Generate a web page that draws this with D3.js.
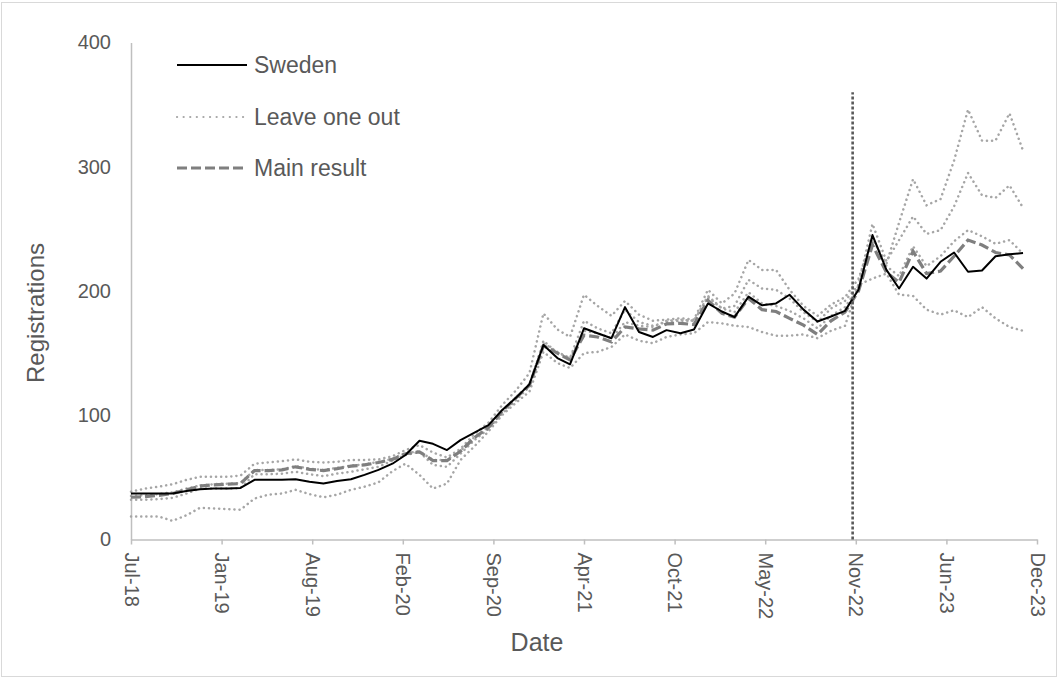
<!DOCTYPE html>
<html>
<head>
<meta charset="utf-8">
<script src="https://cdn.jsdelivr.net/npm/d3@7"></script>
<style>
  html, body { margin: 0; padding: 0; background: #fff; }
  svg { display: block; }
  text { font-family: "Liberation Sans", Arial, sans-serif; fill: #595959; }
</style>
</head>
<body>
<svg id="chart" width="1059" height="680"></svg>
<script>
// ---- data (monthly, Jul 2018 .. Dec 2023) ----
const startYear = 2018, startMonth = 6; // July 2018
const sweden = [37,37,37,37,39,40.5,41,41,41.5,48,48,48,48.5,46.5,45,47,48.5,52,56,61,68,79.5,77,72,80,86,92,104,114,125,156.5,146,141,170,166,162,187,167,163,168.5,166,169,190,183.5,179,195.5,188.5,190,197,185,175.5,179.5,184,201,245,217,202,219.5,210,223.5,231,215.5,216.5,228,229.5,230.5];
const mainResult = [34,34.5,35.5,37,40,43,44,44.5,45,55.5,55.5,56,58.5,56.5,55.5,57,59,60,62,64.5,69,70.5,63.5,63.5,71,82,90,103,114,124,156,150,144.5,164.5,163,159,171,169.5,168.5,173.5,174,173,192.5,182,179,194,185,183.5,178,172.5,165,176,183,200,237,215,207,232,214,216,228,241,237,231,229,218];
const looA = [38.5,41,42.5,44.5,48,50.5,50.5,50.5,51.5,61,62,63,64.5,62.5,62,62.5,64,64,64.5,67,72,76,70,66,73,85,94,108,120,134,182,169,163,197,188,180,192,181,176,177,178,177,201,190,198,225,217,217,201,188,180,189,195,210,242,222,255,290,269,274,305,346,321,321,343,313];
const looB = [32,32,32.5,33.5,37,41,41,41,41.5,52.5,52.5,53,54.5,52.5,51,53,54.5,56.5,58.5,63.5,68,70.5,60,58.5,69,80,89,101,112,123,160,150,146,176,170,166,185,175,172,175,176,176,196,186,188,209,202,201,194,183,175,186,192,205,254,224,241,260,246,249,268,295,277,275,285,267];
const looC = [35,35.5,36.5,38,41,43.5,44.5,45,45.5,56,56,56.5,59,57,56,57.5,59.5,60.5,62.5,65,69.5,71,64,64,71.5,82.5,90.5,103.5,114.5,125,158,151,146,168,166,162,175,172,171,176,177,176,195,186,183,199,190,188,184,178,170,180,187,203,243,220,212,236,220,228,240,249,244,238,241,230];
const looD = [18.5,18.5,18.5,15,19.5,25.5,25,24.5,24,33,36,37,40,36.5,34,36,40,42.5,46,55,61,52,41,45,64,75,87,100,110,119,151,142,138,150,151,155,165,160,158,163,165,166,175,174,172,171,167,164,164,165,162,168,172,205,210,214,197,196,185,181,184.5,179,187,178,171,168];
const leaveOneOut = [looA, looB, looC, looD];
const xTickLabels = ["Jul-18","Jan-19","Aug-19","Feb-20","Sep-20","Apr-21","Oct-21","May-22","Nov-22","Jun-23","Dec-23"];
const yTicks = [0,100,200,300,400];
const legendLabels = ["Sweden","Leave one out","Main result"];
const interventionDate = Date.UTC(2022, 10, 18);
const interventionTop = 360;

// ---- scales ----
const DAY = 86400000;
const t0 = Date.UTC(startYear, startMonth, 1);
const tickStepDays = 201;
const x = d3.scaleUtc()
  .domain([new Date(t0), new Date(t0 + tickStepDays * 10 * DAY)])
  .range([131, 1037]);
const y = d3.scaleLinear().domain([0, 400]).range([539.5, 42.5]);
const dates = sweden.map((_, i) => new Date(Date.UTC(startYear, startMonth + i, 1)));
const tickDates = xTickLabels.map((_, k) => new Date(t0 + k * tickStepDays * DAY));

const svg = d3.select("#chart");

// outer border
svg.append("rect").attr("x", 1.5).attr("y", 2.5).attr("width", 1055).attr("height", 674)
  .attr("fill", "#fff").attr("stroke", "#d9d9d9").attr("stroke-width", 1);

// ---- axes ----
const xAxis = svg.append("g").attr("transform", `translate(0,${y(0)})`)
  .call(d3.axisBottom(x).tickValues(tickDates).tickSize(5).tickSizeOuter(0)
    .tickFormat((d, i) => xTickLabels[i]));
xAxis.select(".domain").attr("stroke", "#bfbfbf").attr("stroke-width", 1.5);
xAxis.selectAll(".tick line").attr("stroke", "#bfbfbf").attr("stroke-width", 1.5);
xAxis.selectAll(".tick text")
  .attr("transform", "rotate(90)")
  .attr("text-anchor", "start")
  .attr("x", 13).attr("y", 0).attr("dy", "0.35em")
  .style("font-size", "20px").style("fill", "#595959");

const yAxis = svg.append("g").attr("transform", "translate(131,0)")
  .call(d3.axisLeft(y).tickValues(yTicks).tickSize(0).tickSizeOuter(0).tickPadding(20));
yAxis.select(".domain").attr("stroke", "#bfbfbf").attr("stroke-width", 1.5);
yAxis.selectAll(".tick text").style("font-size", "20px").style("fill", "#595959");

// axis titles
svg.append("text").attr("x", 537).attr("y", 651).attr("text-anchor", "middle")
  .style("font-size", "25px").text("Date");
svg.append("text").attr("transform", "translate(44,313) rotate(-90)").attr("text-anchor", "middle")
  .style("font-size", "24px").text("Registrations");

// ---- lines ----
const line = d3.line().x((d, i) => x(dates[i])).y(d => y(d));

svg.append("g").selectAll("path").data(leaveOneOut).join("path")
  .attr("d", line).attr("fill", "none")
  .attr("stroke", "#a6a6a6").attr("stroke-width", 2.5)
  .attr("stroke-linecap", "round").attr("stroke-dasharray", "0.1,5");

svg.append("path").datum(mainResult).attr("d", line).attr("fill", "none")
  .attr("stroke", "#7f7f7f").attr("stroke-width", 3.2).attr("stroke-dasharray", "10,4");

svg.append("path").datum(sweden).attr("d", line).attr("fill", "none")
  .attr("stroke", "#000").attr("stroke-width", 2).attr("stroke-linejoin", "round");

// intervention line
svg.append("line")
  .attr("x1", x(new Date(interventionDate))).attr("x2", x(new Date(interventionDate)))
  .attr("y1", y(0)).attr("y2", y(interventionTop))
  .attr("stroke", "#595959").attr("stroke-width", 2.6).attr("stroke-dasharray", "3,2");

// ---- legend ----
const legendY = [65, 117, 168];
const legendStyles = [
  {stroke: "#000", width: 2, dash: null, cap: "butt"},
  {stroke: "#a6a6a6", width: 2.2, dash: "0.1,6.5", cap: "round"},
  {stroke: "#7f7f7f", width: 3.2, dash: "10,4", cap: "butt"}
];
const lg = svg.append("g");
legendLabels.forEach((lab, i) => {
  const s = legendStyles[i];
  const l = lg.append("line").attr("x1", 177).attr("x2", 247)
    .attr("y1", legendY[i]).attr("y2", legendY[i])
    .attr("stroke", s.stroke).attr("stroke-width", s.width).attr("stroke-linecap", s.cap);
  if (s.dash) l.attr("stroke-dasharray", s.dash);
  lg.append("text").attr("x", 254).attr("y", legendY[i]).attr("dy", "0.35em")
    .style("font-size", "23px").text(lab);
});
</script>
</body>
</html>
